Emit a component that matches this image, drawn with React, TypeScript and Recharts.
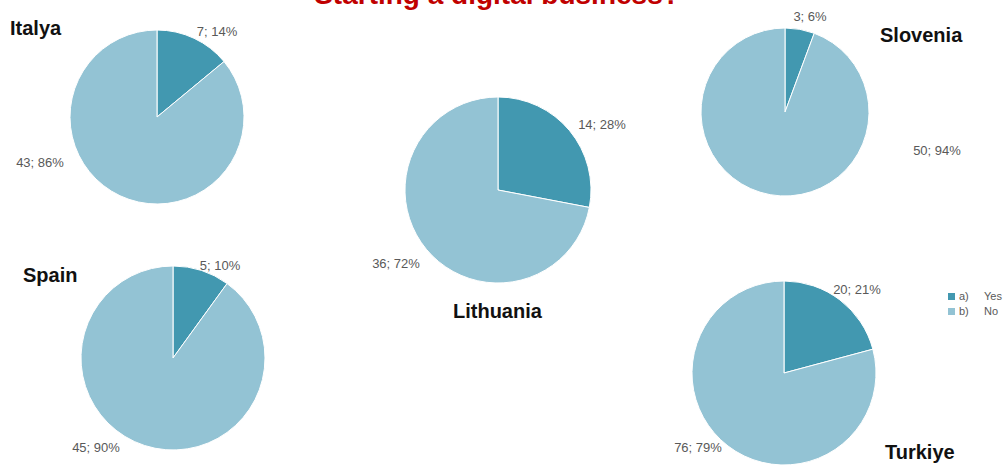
import React from 'react';
import { PieChart, Pie, Cell } from 'recharts';

// ---- data ----
const countries = ['Italya', 'Slovenia', 'Lithuania', 'Spain', 'Turkiye'];
const answerKeys = ['a)', 'b)'];
const answerNames = ['Yes', 'No'];
const yesValues = [7, 3, 14, 5, 20];
const noValues = [43, 50, 36, 45, 76];
const chartTitle = 'Starting a digital business?';

// ---- layout / style ----
const COLORS = ['#4298B0', '#93C3D4'];
const W = 1008;
const H = 465;
const LABEL_FONT = '"Liberation Sans", Arial, sans-serif';

type Layout = {
  cx: number;
  cy: number;
  r: number;
  titleX: number;
  titleY: number;
  labelOffsets: [number, number][];
};

const layouts: Layout[] = [
  { cx: 157, cy: 117, r: 87, titleX: 10, titleY: 35, labelOffsets: [[60, -86], [-117, 45]] },
  { cx: 785, cy: 112, r: 84, titleX: 880, titleY: 42, labelOffsets: [[25, -96], [152, 38]] },
  { cx: 498, cy: 190, r: 93, titleX: 453, titleY: 318, labelOffsets: [[104, -66], [-102, 73]] },
  { cx: 173, cy: 358, r: 92, titleX: 23, titleY: 282, labelOffsets: [[47, -93], [-77, 89]] },
  { cx: 784, cy: 373, r: 92, titleX: 885, titleY: 459, labelOffsets: [[73, -84], [-86, 74]] },
];

const makeData = (i: number) => [
  { name: answerNames[0], key: answerKeys[0], value: yesValues[i] },
  { name: answerNames[1], key: answerKeys[1], value: noValues[i] },
];

const makeLabel = (layout: Layout) => (props: any) => {
  const { cx, cy, index, value, percent } = props;
  const [dx, dy] = layout.labelOffsets[index];
  return (
    <text
      x={cx + dx}
      y={cy + dy}
      textAnchor="middle"
      dominantBaseline="central"
      fill="#595959"
      fontSize={13}
      fontFamily={LABEL_FONT}
    >
      {`${value}; ${Math.round(percent * 100)}%`}
    </text>
  );
};

export default function App() {
  return (
    <div style={{ position: 'absolute', left: 0, top: 0, width: W, height: H, background: '#fff', overflow: 'hidden' }}>
      <PieChart width={W} height={H} margin={{ top: 0, right: 0, bottom: 0, left: 0 }}>
        {countries.map((c, i) => {
          const l = layouts[i];
          return (
            <Pie
              key={c}
              data={makeData(i)}
              dataKey="value"
              nameKey="name"
              cx={l.cx}
              cy={l.cy}
              outerRadius={l.r}
              startAngle={90}
              endAngle={-270}
              stroke="#ffffff"
              strokeWidth={1}
              isAnimationActive={false}
              labelLine={false}
              label={makeLabel(l)}
            >
              {makeData(i).map((d, j) => (
                <Cell key={d.name} fill={COLORS[j]} />
              ))}
            </Pie>
          );
        })}
      </PieChart>
      <svg width={W} height={H} style={{ position: 'absolute', left: 0, top: 0, pointerEvents: 'none' }}>
        <text
          x={497}
          y={4}
          textAnchor="middle"
          fill="#C00000"
          fontSize={28}
          fontWeight="bold"
          fontFamily={LABEL_FONT}
        >
          {chartTitle}
        </text>
        {countries.map((c, i) => (
          <text
            key={c}
            x={layouts[i].titleX}
            y={layouts[i].titleY}
            fill="#111111"
            fontSize={20}
            fontWeight="bold"
            fontFamily={LABEL_FONT}
          >
            {c}
          </text>
        ))}
        {answerKeys.map((k, j) => (
          <g key={k}>
            <rect x={948} y={293 + j * 15} width={7} height={7} fill={COLORS[j]} />
            <text x={959} y={300 + j * 15} fontSize={11} fill="#595959" fontFamily={LABEL_FONT}>
              {k}
            </text>
            <text x={984} y={300 + j * 15} fontSize={11} fill="#595959" fontFamily={LABEL_FONT}>
              {answerNames[j]}
            </text>
          </g>
        ))}
      </svg>
    </div>
  );
}
